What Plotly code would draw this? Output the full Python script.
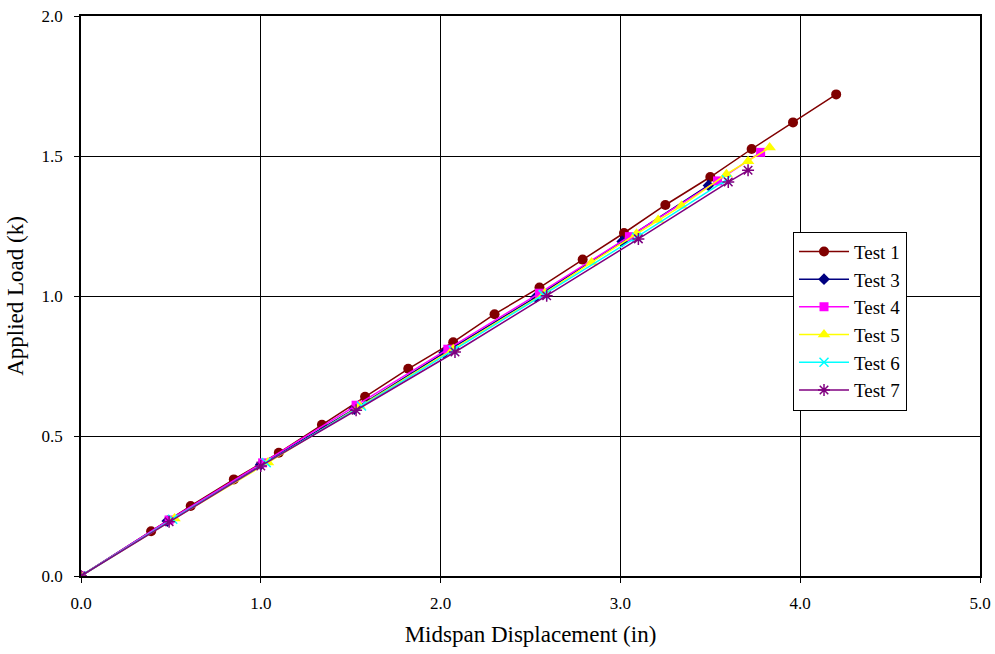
import plotly.graph_objects as go

test1_x = [0, 0.39, 0.61, 0.85, 1.10, 1.34, 1.58, 1.82, 2.07, 2.30, 2.55, 2.79, 3.02, 3.25, 3.50, 3.73, 3.96, 4.20]
test1_y = [0, 0.16, 0.25, 0.345, 0.44, 0.54, 0.64, 0.74, 0.835, 0.935, 1.03, 1.13, 1.225, 1.325, 1.425, 1.525, 1.62, 1.72]

test3_x = [0, 0.48, 1.00, 1.52, 2.02, 2.53, 3.01, 3.49]
test3_y = [0, 0.196, 0.398, 0.596, 0.797, 0.996, 1.195, 1.395]

test4_x = [0, 0.49, 1.01, 1.53, 2.04, 2.55, 3.05, 3.54, 3.78]
test4_y = [0, 0.20, 0.404, 0.61, 0.81, 1.01, 1.212, 1.411, 1.513]

test5_x = [0, 0.52, 1.04, 1.55, 2.07, 2.58, 2.84, 3.09, 3.21, 3.34, 3.59, 3.71, 3.83]
test5_y = [0, 0.205, 0.405, 0.607, 0.81, 1.01, 1.12, 1.222, 1.271, 1.322, 1.435, 1.481, 1.53]

test6_x = [0, 0.51, 1.03, 1.56, 2.07, 2.57, 3.09, 3.59]
test6_y = [0, 0.203, 0.405, 0.607, 0.806, 1.005, 1.21, 1.415]

test7_x = [0, 0.49, 1.00, 1.53, 2.08, 2.59, 3.10, 3.60, 3.71]
test7_y = [0, 0.194, 0.393, 0.592, 0.800, 1.001, 1.204, 1.407, 1.449]

series = [
    ("Test 1", test1_x, test1_y, "#800000", "circle", 10),
    ("Test 3", test3_x, test3_y, "#000080", "diamond", 9),
    ("Test 4", test4_x, test4_y, "#FF00FF", "square", 9),
    ("Test 5", test5_x, test5_y, "#FFFF00", "triangle-up", 11),
    ("Test 6", test6_x, test6_y, "#00FFFF", "x-thin-open", 9),
    ("Test 7", test7_x, test7_y, "#800080", "asterisk-open", 10),
]

fig = go.Figure()
for name, xs, ys, color, sym, size in series:
    marker = dict(symbol=sym, size=size, color=color)
    if sym.endswith("-open"):
        marker["line"] = dict(color=color, width=1.5)
    else:
        marker["line"] = dict(width=0)
    fig.add_trace(go.Scatter(
        x=xs, y=ys, name=name, mode="lines+markers",
        line=dict(color=color, width=1.5), marker=marker,
    ))

axis_common = dict(
    showline=True, linecolor="black", linewidth=1.5, mirror=True,
    showgrid=True, gridcolor="black", gridwidth=1.2,
    ticks="outside", ticklen=5, tickcolor="black", tickwidth=1,
    zeroline=False, tickformat=".1f", automargin=False,
    tickfont=dict(family="Liberation Serif", size=17, color="black"),
)

fig.update_layout(
    width=995, height=654,
    margin=dict(l=81, r=15, t=16, b=78),
    paper_bgcolor="white", plot_bgcolor="white",
    font=dict(family="Liberation Serif", color="black"),
    xaxis=dict(range=[0, 5], dtick=1, ticklabelstandoff=6,
               title=dict(text="Midspan Displacement (in)", font=dict(size=23), standoff=14),
               **axis_common),
    yaxis=dict(range=[0, 2], dtick=0.5, ticklabelstandoff=8,
               title=dict(text="Applied Load (k)", font=dict(size=23), standoff=12),
               **axis_common),
    legend=dict(
        x=0.792, y=0.615, xanchor="left", yanchor="top",
        bgcolor="white", bordercolor="black", borderwidth=1,
        font=dict(family="Liberation Serif", size=19, color="black"),
        tracegroupgap=0, itemwidth=50,
    ),
)

fig.write_html("out.html")
